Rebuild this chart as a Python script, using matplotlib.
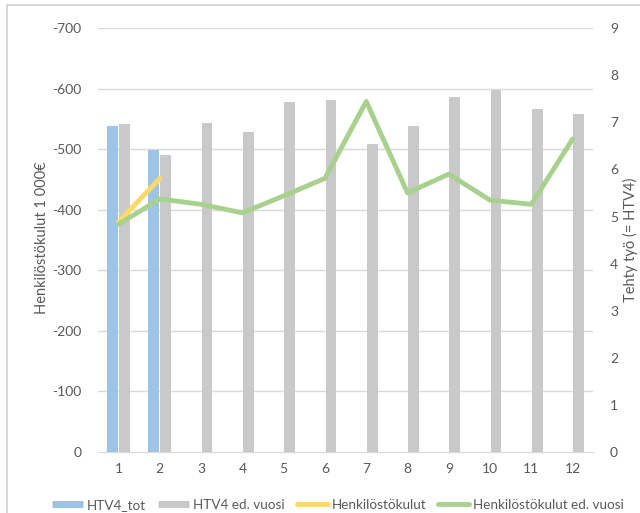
import matplotlib
matplotlib.use('Agg')
import matplotlib.pyplot as plt
import numpy as np
from matplotlib.patches import Rectangle
from matplotlib.lines import Line2D

plt.rcParams['font.family'] = ['Lato', 'DejaVu Sans']
plt.rcParams['axes.unicode_minus'] = False

# data
months = list(range(1, 13))
htv4_tot = [6.92, 6.41]
htv4_ed = [6.96, 6.31, 6.99, 6.79, 7.43, 7.47, 6.54, 6.92, 7.54, 7.69, 7.28, 7.18]
kulut = [-380, -452]
kulut_ed = [-376, -418, -409, -395, -423, -452, -579, -428, -459, -416, -409, -517]

txt = '#595959'
grid_c = '#d9d9d9'
c_blue, c_gray, c_yel, c_grn = '#9dc3e6', '#c9c9c9', '#ffd966', '#a9d18e'

fig = plt.figure(figsize=(6.4, 5.13), dpi=100)
# chart-area border (cropped on right/bottom in the original)
fig.patches.append(Rectangle((7 / 640, -0.1), 1.2, 1.1 - 5 / 513, transform=fig.transFigure,
                             fill=False, edgecolor='#d0d0d0', lw=1.2))
ax = fig.add_axes([0.153, 0.119, 0.774, 0.826])
axb = ax.twinx()
ax.set_zorder(axb.get_zorder() + 1)
ax.patch.set_visible(False)

x = np.array(months)
w = 0.26
axb.bar(x[:len(htv4_tot)] - w / 2 - 0.015, htv4_tot, width=w, color=c_blue)
axb.bar(x + w / 2 + 0.015, htv4_ed, width=w, color=c_gray)
axb.set_ylim(0, 9)
axb.set_yticks(range(0, 10))
for v in range(100, 701, 100):
    axb.axhline(v * 9 / 700, color=grid_c, lw=1, zorder=0)

ax.plot(months[:len(kulut)], kulut, color=c_yel, lw=3.5, solid_capstyle='round')
ax.plot(months, kulut_ed, color=c_grn, lw=3.5, solid_capstyle='round')
ax.set_ylim(0, -700)
ax.set_yticks(range(0, -701, -100))
ax.set_xlim(0.5, 12.5)
ax.set_xticks(months)

for a in (ax, axb):
    for s in a.spines.values():
        s.set_visible(False)
    a.tick_params(length=0, colors=txt, labelsize=10)
ax.spines['bottom'].set_visible(True)
ax.spines['bottom'].set_color(grid_c)
ax.tick_params(axis='y', pad=12)
ax.tick_params(axis='x', pad=8)
axb.tick_params(axis='y', pad=12)

fig.text(42 / 640, 1 - 238 / 513, 'Henkilöstökulut 1 000€', rotation=90,
         ha='center', va='center', color=txt, fontsize=10.5)
fig.text(630 / 640, 1 - 240 / 513, 'Tehty työ (= HTV4)', rotation=90,
         ha='center', va='center', color=txt, fontsize=10.5)

handles = [
    Line2D([], [], color=c_blue, lw=5, solid_capstyle='butt'),
    Line2D([], [], color=c_gray, lw=5, solid_capstyle='butt'),
    Line2D([], [], color=c_yel, lw=3.5, solid_capstyle='round'),
    Line2D([], [], color=c_grn, lw=3.5, solid_capstyle='round'),
]
labels = ['HTV4_tot', 'HTV4 ed. vuosi', 'Henkilöstökulut', 'Henkilöstökulut ed. vuosi']
fig.legend(handles, labels, loc='center', ncol=4, frameon=False,
           fontsize=9.7, labelcolor=txt, bbox_to_anchor=(338 / 640, 1 - 505 / 513),
           handlelength=2.3, handletextpad=0.3, columnspacing=0.9, borderpad=0)

fig.savefig('out.png', dpi=100)
